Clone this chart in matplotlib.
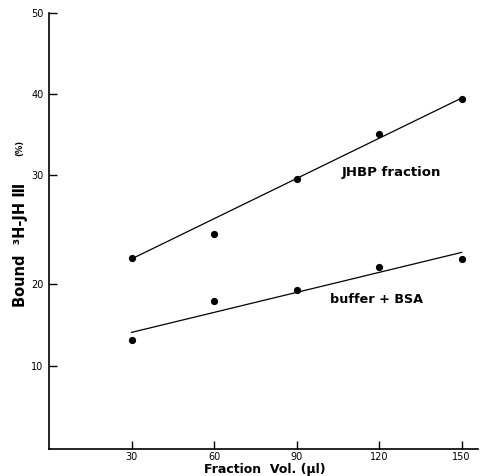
import numpy as np
import matplotlib
matplotlib.use("Agg")
import matplotlib.pyplot as plt

# Fraction volume (µl) and bound 3H-JH III (%)
volumes = [30, 60, 90, 120, 150]
jhbp_bound = [22.4, 24.6, 29.6, 35.1, 39.4]
bsa_bound = [13.2, 17.9, 19.3, 21.6, 22.3]

# Fitted regression lines (end points at 30 and 150 µl)
fit_x = [30, 150]
jhbp_fit = [22.3, 39.5]
bsa_fit = [14.1, 22.9]

x_ticks = [30, 60, 90, 120, 150]
y_ticks = [10, 20, 30, 40, 50]

# The printed y axis is hand-ruled with uneven gridding; reproduce it with a
# piecewise-linear scale anchored at each labelled value.
_scale_vals = np.array([0, 10, 20, 30, 40, 50], dtype=float)
_scale_pos = np.array([0, 83, 165, 274, 355, 436], dtype=float) / 436 * 50


def _fwd(v):
    return np.interp(v, _scale_vals, _scale_pos)


def _inv(p):
    return np.interp(p, _scale_pos, _scale_vals)


fig = plt.figure(figsize=(4.82, 4.76), dpi=100)
ax = fig.add_axes([0.1017, 0.0567, 0.8903, 0.9160])
ax.set_yscale("function", functions=(_fwd, _inv))

ax.plot(fit_x, jhbp_fit, color="black", lw=0.9)
ax.plot(fit_x, bsa_fit, color="black", lw=0.9)
ax.plot(volumes, jhbp_bound, "o", color="black", ms=4.2)
ax.plot(volumes, bsa_bound, "o", color="black", ms=4.2)

ax.set_xlim(0, 156)
ax.set_ylim(0, 50)
ax.set_xticks(x_ticks)
ax.set_yticks(y_ticks)
ax.set_xticklabels([str(t) for t in x_ticks], fontsize=7)
ax.set_yticklabels([str(t) for t in y_ticks], fontsize=7)
ax.tick_params(direction="in", length=6, width=1.0, pad=4)
ax.tick_params(axis="x", pad=2)
ax.minorticks_off()

for side in ("top", "right"):
    ax.spines[side].set_visible(False)
for side in ("left", "bottom"):
    ax.spines[side].set_linewidth(1.2)

ax.text(106.5, 30.25, "JHBP fraction", fontsize=9.5, fontweight="bold",
        va="center", ha="left")
ax.text(102, 18.05, "buffer + BSA", fontsize=9.2, fontweight="bold",
        va="center", ha="left")

fig.text(0.55, 0.013, "Fraction  Vol. (μl)", fontsize=9, fontweight="bold",
         ha="center", va="center")
fig.text(0.042, 0.485, "Bound  ³H-JH Ⅲ", rotation=90, fontsize=10.5,
         fontweight="bold", ha="center", va="center")
fig.text(0.042, 0.69, "(%)", rotation=90, fontsize=6, fontweight="bold",
         ha="center", va="center")

fig.savefig("out.png", dpi=100)
